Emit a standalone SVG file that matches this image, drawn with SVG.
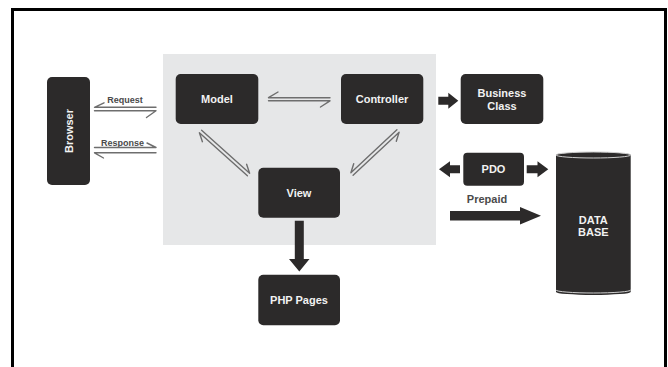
<svg xmlns="http://www.w3.org/2000/svg" width="668" height="367" viewBox="0 0 668 367">
  <defs>
    <style>
      .box { fill: #2c2a2a; }
      .lbl { font-family: "Liberation Sans", Arial, sans-serif; font-weight: bold; font-size: 11px; fill: #f2f2f2; text-anchor: middle; }
      .cap { font-family: "Liberation Sans", Arial, sans-serif; font-weight: bold; font-size: 9px; fill: #4a4a4a; text-anchor: middle; }
      .harp { fill: none; stroke: #6e6e6e; stroke-width: 1.4; stroke-linecap: round; stroke-linejoin: round; }
      .fat { fill: #2c2a2a; }
    </style>
  </defs>

  <rect width="668" height="367" fill="#ffffff"/>
  <!-- frame -->
  <path d="M12.5,367 V9.5 H665.5 V367" fill="none" stroke="#000" stroke-width="3"/>

  <!-- MVC panel -->
  <rect id="panel" x="163" y="54" width="273" height="191" fill="#e6e7e8"/>

  <g id="browser">
    <rect class="box" x="47" y="77" width="43" height="108" rx="5"/>
    <text class="lbl" transform="translate(72.5,131) rotate(-90)">Browser</text>
  </g>

  <g id="model">
    <rect class="box" x="175.7" y="74" width="82.6" height="50" rx="5"/>
    <text class="lbl" x="217" y="103">Model</text>
  </g>

  <g id="controller">
    <rect class="box" x="341" y="74" width="82.3" height="50" rx="5"/>
    <text class="lbl" x="382" y="103">Controller</text>
  </g>

  <g id="business">
    <rect class="box" x="460.7" y="74" width="82.6" height="50" rx="5"/>
    <text class="lbl" x="502" y="97">Business</text>
    <text class="lbl" x="502" y="110">Class</text>
  </g>

  <g id="view">
    <rect class="box" x="258.3" y="167.7" width="81.7" height="50" rx="5"/>
    <text class="lbl" x="299" y="197">View</text>
  </g>

  <g id="php">
    <rect class="box" x="258.3" y="274.7" width="81.7" height="50.6" rx="5"/>
    <text class="lbl" x="299" y="304">PHP Pages</text>
  </g>

  <g id="pdo">
    <rect class="box" x="463.3" y="152.7" width="60.7" height="33" rx="4"/>
    <text class="lbl" x="493.5" y="173">PDO</text>
  </g>

  <g id="database">
    <path class="box" d="M556,155 A37.3,3 0 0 1 630.7,155 V292 A37.3,3 0 0 1 556,292 Z"/>
    <ellipse cx="593.3" cy="155" rx="37.3" ry="3" fill="none" stroke="#cfcfcf" stroke-width="1"/>
    <path d="M556,290 A37.3,3 0 0 0 630.7,290" fill="none" stroke="#cfcfcf" stroke-width="1"/>
    <text class="lbl" x="593.3" y="224">DATA</text>
    <text class="lbl" x="593.3" y="236">BASE</text>
  </g>

  <g id="connectors">
    <!-- Browser / Model: Request -->
    <text class="cap" x="125" y="103">Request</text>
    <path class="harp" d="M156,107.3 H94.5 L104,102.8"/>
    <path class="harp" d="M94.5,110.8 H156 L146.5,117.5"/>

    <!-- Browser / Model: Response -->
    <text class="cap" x="122.5" y="145.5">Response</text>
    <path class="harp" d="M94.5,147.5 H156 L147,143"/>
    <path class="harp" d="M156,152.8 H94.5 L103.5,158"/>

    <!-- Model / Controller -->
    <path class="harp" d="M330,97.7 H268.5 L278,92"/>
    <path class="harp" d="M268.5,100.8 H330 L320.5,107"/>

    <!-- Model / View -->
    <path class="harp" d="M247.4,175.7 L199.4,132.7 L202.4,141.7"/>
    <path class="harp" d="M201.6,130.3 L249.6,173.3 L246.6,164.3"/>

    <!-- Controller / View -->
    <path class="harp" d="M353.1,175.2 L399.1,132.2 L396.3,141.3"/>
    <path class="harp" d="M396.9,129.8 L350.9,172.8 L353.7,163.7"/>

    <!-- Controller -> Business Class -->
    <polygon class="fat" points="438.3,96.7 448.3,96.7 448.3,92.7 458.3,100.7 448.3,108.7 448.3,104.7 438.3,104.7"/>

    <!-- PDO <-> -->
    <polygon class="fat" points="460,165.3 450,165.3 450,161.3 439,169.3 450,177.3 450,173.3 460,173.3"/>
    <polygon class="fat" points="526.7,165.3 537.5,165.3 537.5,161.3 548.3,169.3 537.5,177.3 537.5,173.3 526.7,173.3"/>

    <!-- Prepaid -->
    <text class="lbl" x="487" y="202.5" style="fill:#4a4a4a">Prepaid</text>
    <polygon class="fat" points="450,211 520,211 520,207 541,215.7 520,224.5 520,220.5 450,220.5"/>

    <!-- View -> PHP Pages -->
    <polygon class="fat" points="294.8,220.7 303.8,220.7 303.8,259 309.5,259 299.3,271.5 289,259 294.8,259"/>
  </g>
</svg>
